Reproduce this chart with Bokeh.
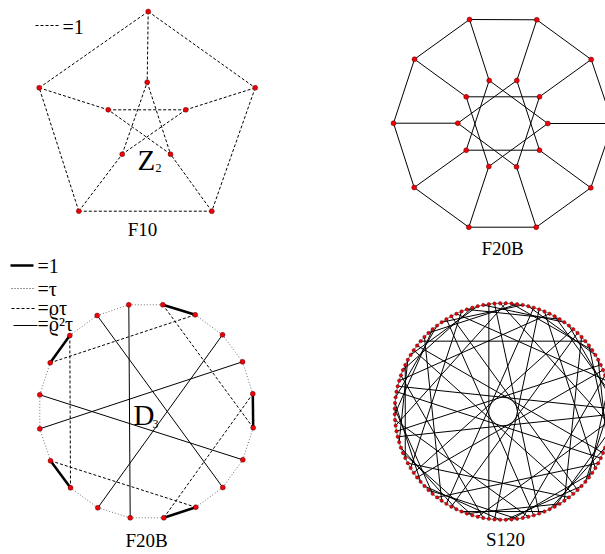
import numpy as np
from bokeh.plotting import figure
from bokeh.models import Range1d
from bokeh.core.properties import value
from bokeh.embed import file_html
from bokeh.resources import INLINE

SERIF = value("Liberation Serif")

f10_x = [147.7, 254.7, 211.3, 78.3, 38.7, 146.7, 185.3, 170.0, 121.7, 107.7]
f10_y = [11.0, 87.3, 210.7, 210.7, 87.3, 81.7, 109.3, 153.7, 153.7, 109.3]
f10_edges = [(0,1),(1,2),(2,3),(3,4),(4,0),(0,5),(1,6),(2,7),(3,8),(4,9),
             (5,7),(7,9),(9,6),(6,8),(8,5)]

f20a_x = [469.0,536.3,590.7,612.4,590.3,535.7,468.3,413.7,393.0,414.0,
          488.7,516.3,539.0,547.3,539.0,516.0,488.3,465.7,457.3,465.7]
f20a_y = [19.0,19.3,59.0,123.0,187.3,226.7,226.7,187.0,122.7,58.7,
          80.0,80.0,96.3,123.0,149.7,166.3,166.0,149.7,122.7,96.3]
f20a_edges = [(0,1),(1,2),(2,3),(3,4),(4,5),(5,6),(6,7),(7,8),(8,9),(9,0),
              (0,10),(1,11),(2,12),(3,13),(4,14),(5,15),(6,16),(7,17),(8,18),(9,19),
              (10,13),(10,17),(11,18),(11,14),(12,19),(12,15),(13,16),(14,17),(15,18),(16,19)]

f20b_x = [128.3,162.3,194.7,222.0,242.0,252.3,252.7,242.3,222.3,195.3,
          163.3,129.7,97.3,70.0,50.0,39.3,39.3,49.7,69.3,96.7]
f20b_y = [304.3,304.3,314.3,334.3,361.3,393.3,427.3,459.3,487.0,506.7,
          517.3,517.3,507.3,487.3,460.3,428.3,394.3,362.3,335.0,315.0]
f20b_thick = [(1,2),(5,6),(9,10),(13,14),(17,18)]
f20b_dotted = [(0,1),(2,3),(3,4),(4,5),(6,7),(7,8),(8,9),(10,11),(11,12),(12,13),
               (14,15),(15,16),(16,17),(18,19),(19,0)]
f20b_dashed = [(2,17),(18,13),(14,9),(10,5),(6,1)]
f20b_solid = [(0,11),(19,8),(3,12),(4,15),(16,7)]

s120_count = 120
s120_long = [(32,87),(40,95),(48,103),(56,111),(64,119),(72,7),(80,15),(88,23),(96,31),
             (104,39),(112,47),(0,55),(8,63),(16,71),(24,79)]
s120_mid = [(13,46),(21,54),(29,62),(37,70),(45,78),(53,86),(61,94),(69,102),(77,110),
            (85,118),(93,6),(101,14),(109,22),(117,30),(5,38)]
s120_short = [(51,68),(59,76),(67,84),(75,92),(83,100),(91,108),(99,116),(107,4),(115,12),
              (3,20),(11,28),(19,36),(27,44),(35,52),(43,60)]
s120_rim = [(66,81),(74,89),(82,97),(90,105),(98,113),(106,1),(114,9),(2,17),(10,25),
            (18,33),(26,41),(34,49),(42,57),(50,65),(58,73)]

labels = ["F10", "F20B", "F20B", "S120"]
label_x = [142, 502, 146, 505]
label_y = [229, 248, 540, 539]

p = figure(width=605, height=554, output_backend="svg", toolbar_location=None,
           x_range=Range1d(0, 605), y_range=Range1d(554, 0),
           x_axis_location=None, y_axis_location=None, min_border=0,
           outline_line_color=None, background_fill_color="white")
p.grid.visible = False


def edges(xs, ys, pairs, **kw):
    p.segment([xs[a] for a, b in pairs], [ys[a] for a, b in pairs],
              [xs[b] for a, b in pairs], [ys[b] for a, b in pairs],
              line_color="black", **kw)


def dots(xs, ys, size=5.0):
    p.scatter(xs, ys, size=size, fill_color="#f00008", line_color="#300000", line_width=0.4)


edges(f10_x, f10_y, f10_edges, line_width=1, line_dash="3 2")
dots(f10_x, f10_y)

edges(f20a_x, f20a_y, f20a_edges, line_width=1)
dots(f20a_x, f20a_y)

edges(f20b_x, f20b_y, f20b_dotted, line_width=0.8, line_dash="1 2", line_alpha=0.7)
edges(f20b_x, f20b_y, f20b_dashed, line_width=1, line_dash="3 2")
edges(f20b_x, f20b_y, f20b_solid, line_width=1)
edges(f20b_x, f20b_y, f20b_thick, line_width=2.5)
dots(f20b_x, f20b_y)

cx, cy, r = 502.5, 411.0, 108.3
ang = np.radians(1.5 + 3.0 * np.arange(s120_count))
sx = cx + r * np.cos(ang)
sy = cy - r * np.sin(ang)
ring = [(i, (i + 1) % s120_count) for i in range(s120_count)]
edges(sx, sy, ring, line_width=0.9, line_alpha=0.6)
edges(sx, sy, s120_long + s120_mid + s120_short + s120_rim, line_width=1)
dots(sx, sy, size=3.4)

leg_x0 = [35, 10, 11, 11, 13]
leg_x1 = [60, 33, 33, 36, 37]
leg_y = [25, 265, 288, 308, 325]
leg_w = [1, 2.5, 0.8, 1, 1]
leg_d = ["3 2", "solid", "1 2", "3 2", "solid"]
for a, b, y, w, d in zip(leg_x0, leg_x1, leg_y, leg_w, leg_d):
    p.line([a, b], [y, y], line_color="black", line_width=w, line_dash=d)

leg_text = ["=1", "=1", "=τ", "=ϱτ", "=ϱ²τ"]
leg_tx = [62, 37, 37, 37, 37]
leg_ty = [26, 265, 288, 307, 323]
p.text(leg_tx, leg_ty, text=leg_text, text_font=SERIF, text_font_size="20px",
       text_baseline="middle", text_color="black")

p.text(label_x, label_y, text=labels, text_font=SERIF, text_font_size="19px",
       text_align="center", text_baseline="middle", text_color="black")

p.text([137, 133], [159, 414], text=["Z", "D"], text_font=SERIF, text_font_size="29px",
       text_baseline="middle", text_color="black")
p.text([155, 152], [167, 423], text=["2", "3"], text_font=SERIF, text_font_size="12px",
       text_baseline="middle", text_color="black")

open("out.html", "w").write(file_html(p, INLINE))
